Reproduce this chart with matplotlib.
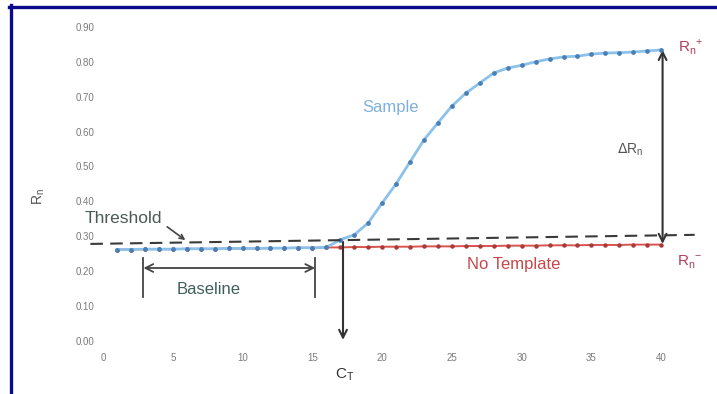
import matplotlib
matplotlib.use('Agg')
import matplotlib.pyplot as plt
from matplotlib.lines import Line2D

plt.rcParams['font.family'] = ['Liberation Sans Narrow', 'Liberation Sans', 'DejaVu Sans']

# data
cycles = list(range(1, 41))
sample = [0.262, 0.262, 0.263, 0.263, 0.263, 0.264, 0.264, 0.264, 0.265, 0.265,
          0.265, 0.266, 0.266, 0.267, 0.267, 0.268, 0.290, 0.304, 0.338, 0.395,
          0.450, 0.513, 0.576, 0.625, 0.673, 0.710, 0.739, 0.768, 0.782, 0.790,
          0.800, 0.808, 0.814, 0.816, 0.822, 0.825, 0.826, 0.828, 0.831, 0.834]
no_template = [0.262, 0.262, 0.263, 0.263, 0.263, 0.264, 0.264, 0.264, 0.265, 0.265,
               0.265, 0.266, 0.266, 0.267, 0.267, 0.268, 0.268, 0.269, 0.269, 0.270,
               0.270, 0.270, 0.271, 0.271, 0.271, 0.272, 0.272, 0.272, 0.273, 0.273,
               0.273, 0.274, 0.274, 0.274, 0.275, 0.275, 0.275, 0.276, 0.276, 0.276]
threshold_x = [-0.9, 42.4]
threshold_y = [0.278, 0.304]
ct = 17.2
baseline_start, baseline_end = 2.9, 15.2
xticks = [0, 5, 10, 15, 20, 25, 30, 35, 40]
yticks = [0.0, 0.1, 0.2, 0.3, 0.4, 0.5, 0.6, 0.7, 0.8, 0.9]

fig = plt.figure(figsize=(7.17, 3.94), dpi=100)
ax = fig.add_axes([97/717, 44/394, 620/717, 350/394])
ax.set_xlim(-0.43, 44.0)
ax.set_ylim(-0.026, 0.977)
for s in ax.spines.values():
    s.set_visible(False)
ax.set_xticks(xticks)
ax.set_xticklabels([str(t) for t in xticks])
ax.set_yticks(yticks)
ax.set_yticklabels(['%.2f' % t for t in yticks])
ax.tick_params(length=0, pad=2, labelsize=7, labelcolor='#7a7a7a')

# curves
ax.plot(cycles, no_template, color='#d9534f', lw=1.4, marker='o', ms=2.2,
        mfc='#a83a3a', mec='#a83a3a', zorder=3)
ax.plot(cycles, sample, color='#8cc2ea', lw=2.0, marker='o', ms=2.4,
        mfc='#4a7fb5', mec='#4a7fb5', zorder=4)
ax.plot(threshold_x, threshold_y, color='#3a3a3a', lw=1.5, dashes=(6, 3.5),
        zorder=5, clip_on=False)

arrow = dict(color='#333333', lw=1.5)
# Ct arrow
ax.annotate('', xy=(ct, -0.005), xytext=(ct, 0.292),
            arrowprops=dict(arrowstyle='->', mutation_scale=14, **arrow),
            annotation_clip=False)
ax.text(ct + 0.15, -0.097, r'C$_\mathregular{T}$', fontsize=11, color='#333333',
        ha='center', va='center', clip_on=False)
# delta Rn arrow
ax.annotate('', xy=(40.1, 0.834), xytext=(40.1, 0.278),
            arrowprops=dict(arrowstyle='<->', mutation_scale=14, shrinkA=0,
                            shrinkB=0, **arrow))
ax.text(37.8, 0.547, r'$\Delta$R$_\mathregular{n}$', fontsize=10,
        color='#555555', ha='center', va='center')
ax.text(41.2, 0.842, r'R$_\mathregular{n}$$^\mathregular{+}$', fontsize=11,
        color='#b0405a', ha='left', va='center', clip_on=False)
ax.text(41.1, 0.226, r'R$_\mathregular{n}$$^\mathregular{-}$', fontsize=11,
        color='#b0405a', ha='left', va='center', clip_on=False)

# baseline bracket
ax.annotate('', xy=(baseline_start, 0.209), xytext=(baseline_end, 0.209),
            arrowprops=dict(arrowstyle='<->', mutation_scale=14, shrinkA=0,
                            shrinkB=0, color='#444444', lw=1.3))
for bx in (baseline_start, baseline_end):
    ax.plot([bx, bx], [0.126, 0.238], color='#444444', lw=1.3)
ax.text(7.6, 0.146, 'Baseline', fontsize=12, color='#3f5f5a',
        ha='center', va='center')

# threshold label
ax.text(-1.3, 0.352, 'Threshold', fontsize=12.5, color='#4a5a55',
        ha='left', va='center', clip_on=False)
ax.annotate('', xy=(5.9, 0.289), xytext=(4.6, 0.327),
            arrowprops=dict(arrowstyle='->', mutation_scale=8, color='#444444',
                            lw=1.2, shrinkA=0, shrinkB=0))

ax.text(20.6, 0.668, 'Sample', fontsize=12, color='#7fb0dc',
        ha='center', va='center')
ax.text(29.4, 0.218, 'No Template', fontsize=12, color='#c8474a',
        ha='center', va='center')
ax.text(-4.6, 0.415, r'R$_\mathregular{n}$', fontsize=10, color='#555555',
        rotation=90, ha='center', va='center', clip_on=False)

# frame from the source image
fig.add_artist(Line2D([10.5/717, 10.5/717], [0, 1 - 5/394], color='#0a0a8c', lw=2.4))
fig.add_artist(Line2D([9/717, 1], [1 - 6.5/394, 1 - 6.5/394], color='#0a0a8c', lw=2.4))

fig.savefig('out.png', dpi=100)
